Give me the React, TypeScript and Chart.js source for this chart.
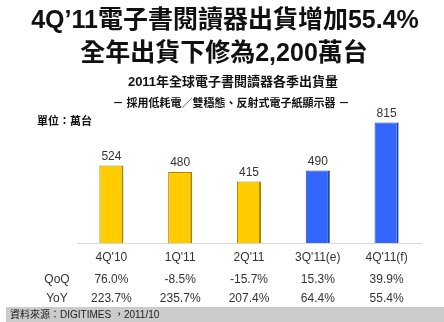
import React, { useEffect, useRef } from "react";
import { Chart, registerables } from "chart.js";

Chart.register(...registerables);

const categories = ["4Q'10", "1Q'11", "2Q'11", "3Q'11(e)", "4Q'11(f)"];
const shipments = [524, 480, 415, 490, 815];
const qoq = ["76.0%", "-8.5%", "-15.7%", "15.3%", "39.9%"];
const yoy = ["223.7%", "235.7%", "207.4%", "64.4%", "55.4%"];
const isForecast = [false, false, false, true, true];

const titleLines = ["4Q\u201911電子書閱讀器出貨增加55.4%", "全年出貨下修為2,200萬台"];
const subtitle1 = "2011年全球電子書閱讀器各季出貨量";
const subtitle2 = "－ 採用低耗電／雙穩態、反射式電子紙顯示器 －";
const unitLabel = "單位：萬台";
const sourceLabel = "資料來源：DIGITIMES ，2011/10";

const LATIN = '"Liberation Sans", Arial, "Noto Sans CJK TC", sans-serif';

const textPlugin = {
  id: "textPlugin",
  beforeDraw(chart: any) {
    const ctx = chart.ctx;
    ctx.save();
    ctx.fillStyle = "#ffffff";
    ctx.fillRect(0, 0, chart.width, chart.height);
    // footer bar
    ctx.fillStyle = "#cbcbcb";
    ctx.fillRect(6, 307, chart.width - 6, chart.height - 307);
    ctx.restore();
  },
  afterDraw(chart: any) {
    const ctx = chart.ctx;
    const xs = chart.scales.x;
    ctx.save();
    ctx.textAlign = "center";
    ctx.textBaseline = "middle";
    ctx.fillStyle = "#111111";
    ctx.font = `bold 25px ${LATIN}`;
    ctx.fillText(titleLines[0], 225, 21);
    ctx.fillText(titleLines[1], 224, 54);
    ctx.font = `bold 13px ${LATIN}`;
    ctx.fillText(subtitle1, 233, 82);
    ctx.font = `bold 11px ${LATIN}`;
    ctx.fillText(subtitle2, 231, 104);
    ctx.textAlign = "left";
    ctx.font = `bold 11px ${LATIN}`;
    ctx.fillText(unitLabel, 37, 122);

    ctx.fillStyle = "#333333";
    ctx.font = `12px ${LATIN}`;
    ctx.textAlign = "center";
    ctx.fillText("QoQ", 57, 280);
    ctx.fillText("YoY", 57, 299);
    for (let i = 0; i < categories.length; i++) {
      const x = xs.getPixelForValue(i);
      ctx.fillText(qoq[i], x, 280);
      ctx.fillText(yoy[i], x, 299);
    }
    ctx.textAlign = "left";
    ctx.font = `10px ${LATIN}`;
    ctx.fillStyle = "#222222";
    ctx.fillText(sourceLabel, 10, 315);

    // bar value labels
    const meta = chart.getDatasetMeta(0);
    ctx.textAlign = "center";
    ctx.font = `12px ${LATIN}`;
    ctx.fillStyle = "#333333";
    meta.data.forEach((bar: any, i: number) => {
      ctx.fillText(String(shipments[i]), bar.x, bar.y - 9);
    });
    ctx.restore();
  },
};

export default function App() {
  const ref = useRef<HTMLCanvasElement | null>(null);
  useEffect(() => {
    if (!ref.current) return;
    const chart = new Chart(ref.current, {
      type: "bar",
      data: {
        labels: categories,
        datasets: [
          {
            data: shipments,
            backgroundColor: isForecast.map((f) => (f ? "#3366ff" : "#ffcc00")),
            borderColor: isForecast.map((f) => (f ? "#2444a8" : "#a88600")),
            borderWidth: { top: 1, left: 1, right: 2, bottom: 0 },
            barPercentage: 0.35,
            categoryPercentage: 1,
          },
        ],
      },
      options: {
        responsive: false,
        animation: false,
        layout: { padding: { top: 95, left: 77, right: 23, bottom: 0 } },
        plugins: {
          legend: { display: false },
          title: { display: false },
          tooltip: { enabled: false },
        },
        scales: {
          x: {
            grid: { display: false, drawTicks: false },
            border: { display: true, color: "#d9d9d9", width: 1 },
            ticks: {
              color: "#333333",
              font: { family: LATIN, size: 12 },
              padding: 7,
              maxRotation: 0,
              autoSkip: false,
            },
            afterFit: (scale: any) => {
              scale.height = 79;
            },
          },
          y: {
            display: false,
            min: 0,
            max: 1000,
          },
        },
      },
      plugins: [textPlugin],
    });
    return () => chart.destroy();
  }, []);
  return (
    <div style={{ position: "absolute", left: 0, top: 0, width: 444, height: 322 }}>
      <canvas ref={ref} width={444} height={322} style={{ display: "block" }} />
    </div>
  );
}
